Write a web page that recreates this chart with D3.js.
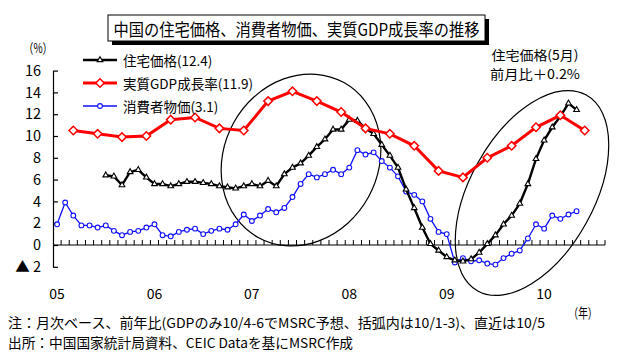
<!DOCTYPE html>
<html><head><meta charset="utf-8">
<script src="https://cdn.jsdelivr.net/npm/d3@7"></script>
<style>
body{margin:0;background:#fff}
svg{display:block}
text{font-family:"Noto Sans CJK JP","Noto Sans",sans-serif;fill:#000}
</style>
</head><body>
<script>
// ---------- data ----------
const title = "中国の住宅価格、消費者物価、実質GDP成長率の推移";
const yearLabels = ["05","06","07","08","09","10"];
const yearMonths = ["2005-01","2006-01","2007-01","2008-01","2009-01","2010-01"];
const yTicks = [-2,0,2,4,6,8,10,12,14,16];
const seriesNames = ["住宅価格(12.4)","実質GDP成長率(11.9)","消費者物価(3.1)"];

// consumer prices, monthly y/y, 2005-01 .. 2010-05
const cpiStart = "2005-01";
const cpi = [
  1.9, 3.9, 2.7, 1.8, 1.8, 1.6, 1.8, 1.3, 0.9, 1.2, 1.3, 1.6,
  1.9, 0.9, 0.8, 1.2, 1.4, 1.5, 1.0, 1.3, 1.5, 1.4, 1.9, 2.8,
  2.2, 2.7, 3.3, 3.0, 3.4, 4.4, 5.6, 6.5, 6.2, 6.5, 6.9, 6.5,
  7.1, 8.7, 8.3, 8.5, 7.7, 7.1, 6.3, 4.9, 4.6, 4.0, 2.4, 1.2,
  1.0, -1.6, -1.2, -1.5, -1.4, -1.7, -1.8, -1.2, -0.8, -0.5, 0.6, 1.9,
  1.5, 2.7, 2.4, 2.8, 3.1
];
// housing prices, monthly y/y, 2005-07 .. 2010-05
const housingStart = "2005-07";
const housing = [
  6.4, 6.3, 5.5, 6.7, 6.9, 6.2,
  5.6, 5.6, 5.4, 5.6, 5.8, 5.8, 5.7, 5.6, 5.4, 5.3, 5.2, 5.4,
  5.6, 5.4, 5.9, 5.4, 6.5, 7.1, 7.5, 8.2, 9.0, 9.7, 10.6, 10.6,
  11.5, 11.4, 10.7, 10.2, 9.2, 8.2, 7.1, 5.1, 3.4, 1.6, 0.1, -0.5,
  -1.1, -1.4, -1.5, -1.3, -0.7, 0.1, 0.9, 1.9, 2.7, 3.8, 5.6, 7.9,
  9.6, 10.8, 11.8, 13.0, 12.4
];
// real GDP, quarterly y/y, plotted at quarter-end month
const gdpMonths = [
  "2005-03","2005-06","2005-09","2005-12",
  "2006-03","2006-06","2006-09","2006-12",
  "2007-03","2007-06","2007-09","2007-12",
  "2008-03","2008-06","2008-09","2008-12",
  "2009-03","2009-06","2009-09","2009-12",
  "2010-03","2010-06"
];
const gdp = [10.5,10.2,9.9,10.0, 11.5,11.7,10.7,10.5, 13.2,14.1,13.2,12.2,
             10.7,10.2,9.1,6.8, 6.2,8.0,9.1,10.8, 11.9,10.5];

const annotation = ["住宅価格(5月)","前月比＋0.2%"];
const note = "注：月次ベース、前年比(GDPのみ10/4-6でMSRC予想、括弧内は10/1-3)、直近は10/5";
const source = "出所：中国国家統計局資料、CEIC Dataを基にMSRC作成";
const yUnit = "（%）";
const xUnit = "（年）";

// ---------- build ----------
const W = 641, H = 359;
const fmt = d3.timeFormat("%Y-%m");
const monthKeys = d3.timeMonth.range(new Date(2005,0,1), new Date(2010,8,1)).map(fmt);
const parse = d3.timeParse("%Y-%m");
const seq = (start, vals) => {
  const s = parse(start);
  return vals.map((v,i)=>({k: fmt(d3.timeMonth.offset(s,i)), v}));
};
const cpiData = seq(cpiStart, cpi);
const housingData = seq(housingStart, housing);
const gdpData = gdpMonths.map((k,i)=>({k, v: gdp[i]}));

const svg = d3.select("body").append("svg").attr("width",W).attr("height",H);

const x = d3.scaleBand().domain(monthKeys).range([53,605]).paddingInner(0).paddingOuter(0);
const cx = k => x(k) + x.bandwidth()/2;
const y = d3.scaleLinear().domain([-2,16]).range([266.8,70.6]);

// title box
svg.append("rect").attr("x",112).attr("y",19).attr("width",377).attr("height",26).attr("fill","#000");
svg.append("rect").attr("x",108).attr("y",15).attr("width",377).attr("height",26)
   .attr("fill","#fff").attr("stroke","#000").attr("stroke-width",1);
svg.append("text").attr("x",296.5).attr("y",28).attr("text-anchor","middle")
   .attr("dominant-baseline","central").attr("font-size",17)
   .attr("textLength",366).attr("lengthAdjust","spacingAndGlyphs").text(title);

// y axis
const yAxis = d3.axisLeft(y).tickValues(yTicks).tickSizeInner(-5).tickSizeOuter(0).tickPadding(12)
  .tickFormat(d => d < 0 ? "▲ " + (-d) : d);
const gy = svg.append("g").attr("transform","translate(53,0)").call(yAxis);
gy.selectAll("text").attr("font-size",14.5).attr("font-family","'Liberation Sans',Arial,sans-serif");
gy.selectAll("line,path").attr("stroke","#000").attr("stroke-width",1.2);

// x axis at zero, ticks between months pointing upward
const gx = svg.append("g");
gx.append("line").attr("x1",x.range()[0]).attr("x2",x.range()[1])
  .attr("y1",y(0)).attr("y2",y(0)).attr("stroke","#000").attr("stroke-width",1.2);
const bounds = monthKeys.map(k=>x(k)).concat([x.range()[1]]).slice(1);
gx.selectAll("line.t").data(bounds).join("line").attr("class","t")
  .attr("x1",d=>d).attr("x2",d=>d).attr("y1",y(0)).attr("y2",y(0)-5)
  .attr("stroke","#000").attr("stroke-width",1);
svg.selectAll("text.yl").data(yearLabels).join("text").attr("class","yl")
  .attr("x",(d,i)=>cx(yearMonths[i])).attr("y",293).attr("text-anchor","middle")
  .attr("dominant-baseline","central").attr("font-size",14)
  .attr("font-family","'Liberation Sans',Arial,sans-serif").text(d=>d);

// units
svg.append("text").attr("x",38).attr("y",47).attr("text-anchor","middle").attr("dominant-baseline","central")
  .attr("font-size",13.5).attr("textLength",29).attr("lengthAdjust","spacingAndGlyphs").text(yUnit);
svg.append("text").attr("x",583).attr("y",312).attr("text-anchor","middle").attr("dominant-baseline","central")
  .attr("font-size",13.5).attr("textLength",29).attr("lengthAdjust","spacingAndGlyphs").text(xUnit);

// ellipses
svg.append("ellipse").attr("cx",0).attr("cy",0).attr("rx",77).attr("ry",88.5)
  .attr("transform","translate(301,160) rotate(29)").attr("fill","none").attr("stroke","#000").attr("stroke-width",1.2);
svg.append("ellipse").attr("cx",0).attr("cy",0).attr("rx",62).attr("ry",112)
  .attr("transform","translate(532,193) rotate(29)").attr("fill","none").attr("stroke","#000").attr("stroke-width",1.2);

// series
const line = d3.line().x(d=>cx(d.k)).y(d=>y(d.v));
const tri = d3.symbol(d3.symbolTriangle).size(14);
const sq = d3.symbol(d3.symbolSquare).size(36);

// CPI (blue)
svg.append("path").datum(cpiData).attr("d",line).attr("fill","none").attr("stroke","#1010ff").attr("stroke-width",1.3);
svg.selectAll("circle.cpi").data(cpiData).join("circle").attr("class","cpi")
  .attr("cx",d=>cx(d.k)).attr("cy",d=>y(d.v)).attr("r",2.4)
  .attr("fill","#fff").attr("stroke","#1010ff").attr("stroke-width",1.1);

// Housing (black)
svg.append("path").datum(housingData).attr("d",line).attr("fill","none").attr("stroke","#000").attr("stroke-width",2.4);
svg.selectAll("path.hs").data(housingData).join("path").attr("class","hs")
  .attr("d",tri).attr("transform",d=>`translate(${cx(d.k)},${y(d.v)})`)
  .attr("fill","#fff").attr("stroke","#000").attr("stroke-width",1.1);

// GDP (red)
svg.append("path").datum(gdpData).attr("d",line).attr("fill","none").attr("stroke","#ff0000").attr("stroke-width",3);
svg.selectAll("path.gd").data(gdpData).join("path").attr("class","gd")
  .attr("d",sq).attr("transform",d=>`translate(${cx(d.k)},${y(d.v)}) rotate(45)`)
  .attr("fill","#fff").attr("stroke","#ff0000").attr("stroke-width",1.5);

// legend
const legY = [60,83,106];
const leg = svg.append("g");
leg.append("line").attr("x1",83).attr("x2",117).attr("y1",legY[0]).attr("y2",legY[0]).attr("stroke","#000").attr("stroke-width",2.4);
leg.append("path").attr("d",tri).attr("transform",`translate(100,${legY[0]})`).attr("fill","#fff").attr("stroke","#000").attr("stroke-width",1.1);
leg.append("line").attr("x1",83).attr("x2",117).attr("y1",legY[1]).attr("y2",legY[1]).attr("stroke","#ff0000").attr("stroke-width",3);
leg.append("path").attr("d",sq).attr("transform",`translate(100,${legY[1]}) rotate(45)`).attr("fill","#fff").attr("stroke","#ff0000").attr("stroke-width",1.5);
leg.append("line").attr("x1",83).attr("x2",117).attr("y1",legY[2]).attr("y2",legY[2]).attr("stroke","#1010ff").attr("stroke-width",1.3);
leg.append("circle").attr("cx",100).attr("cy",legY[2]).attr("r",2.4).attr("fill","#fff").attr("stroke","#1010ff").attr("stroke-width",1.1);
leg.selectAll("text").data(seriesNames).join("text")
  .attr("x",123).attr("y",(d,i)=>legY[i]).attr("dominant-baseline","central")
  .attr("font-size",13.5).text(d=>d);

// annotation
svg.selectAll("text.ann").data(annotation).join("text").attr("class","ann")
  .attr("x",535).attr("y",(d,i)=>54+i*19).attr("text-anchor","middle").attr("dominant-baseline","central")
  .attr("font-size",13).attr("textLength",(d,i)=>i===0?87:90).attr("lengthAdjust","spacingAndGlyphs").text(d=>d);

// footnotes
svg.append("text").attr("x",8).attr("y",322).attr("dominant-baseline","central").attr("font-size",13.5)
  .attr("textLength",537).attr("lengthAdjust","spacingAndGlyphs").text(note);
svg.append("text").attr("x",8).attr("y",342).attr("dominant-baseline","central").attr("font-size",13.5)
  .attr("textLength",345).attr("lengthAdjust","spacingAndGlyphs").text(source);
</script>
</body></html>
